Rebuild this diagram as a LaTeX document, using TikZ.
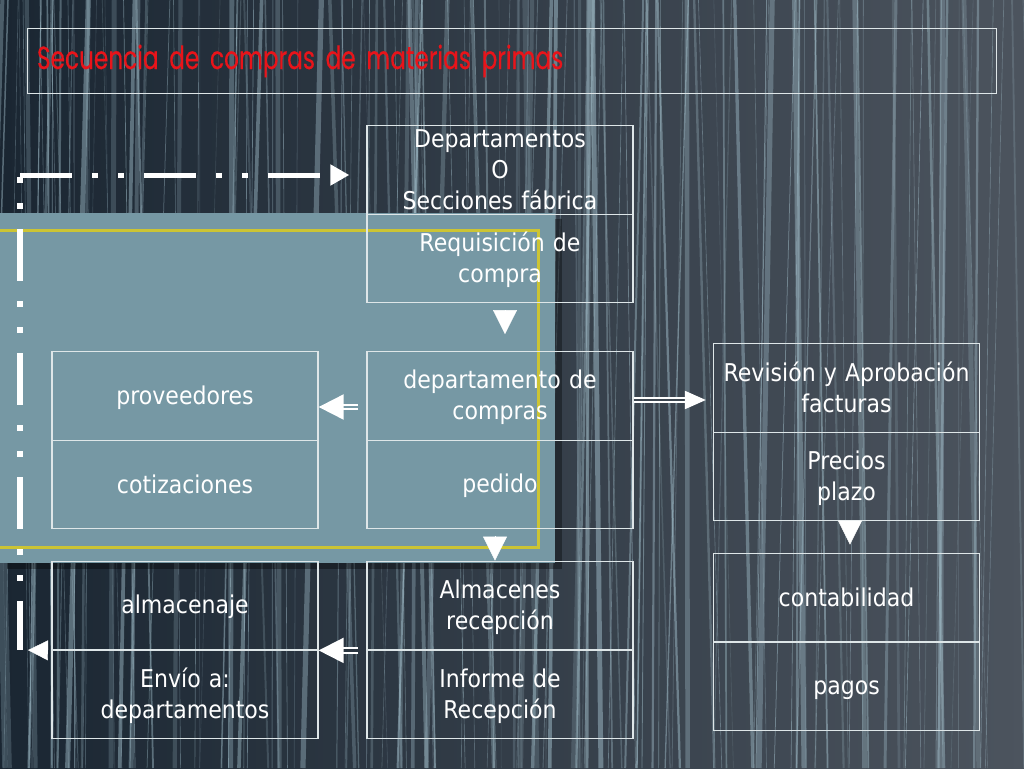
\documentclass[tikz,border=0pt]{standalone}
\usepackage{fontspec}
\setmainfont{DejaVu Sans}[FakeStretch=0.9]
\newfontfamily\titlefont[FakeStretch=0.725,FakeBold=0.3]{Poppins}
\usetikzlibrary{arrows.meta,positioning,calc}
\definecolor{bgleft}{RGB}{26,38,50}
\definecolor{bgright}{RGB}{76,84,94}
\definecolor{streak}{RGB}{170,200,212}
\definecolor{panelblue}{RGB}{118,152,164}
\definecolor{olive}{RGB}{204,196,52}
\definecolor{titlered}{RGB}{232,20,26}
\definecolor{cellline}{RGB}{222,230,232}
\definecolor{gapdark}{RGB}{42,53,64}
\definecolor{gapmid}{RGB}{60,70,80}

\begin{document}
\begin{tikzpicture}[x=1pt, y=-1pt, cell/.style={draw=cellline, line width=1.3pt, minimum width=266pt, minimum height=88.5pt, inner xsep=0pt, inner ysep=-1pt, text width=256pt, align=center, text=white, font=\fontsize{24.5}{31}\selectfont, execute at begin node={\rule{0pt}{22pt}}, execute at end node={\rule[-4.5pt]{0pt}{4.5pt}}}, tri/.style={white, line width=0.4pt, -{Triangle[width=24pt,length=24pt]}}, dbl/.style={draw=white, line width=2pt, double distance=2.5pt, -{Triangle[width=25pt,length=25pt]}}, dashdot/.style={white, line width=5.5pt, dash pattern=on 52pt off 20pt on 6pt off 20pt on 6pt off 20pt}]
\useasboundingbox (0,0) rectangle (1024,768);
\shade[left color=bgleft, right color=bgright] (0,0) rectangle (1024,768);
\pgfmathsetseed{42}
\foreach \i in {1,...,170}{
  \pgfmathsetmacro\xa{rnd*1060-18}
  \pgfmathsetmacro\dx{(rnd-0.5)*50}
  \pgfmathsetmacro\lw{0.6+5*rnd^3}
  \pgfmathsetmacro\op{0.15+0.35*rnd}
  \draw[streak, line width=\lw pt, opacity=\op] (\xa,0) -- (\xa+\dx,768);
}
\node[draw=cellline, line width=1pt, minimum width=969pt, minimum height=64pt, text width=949pt, inner xsep=10pt, align=left, text=titlered, font=\titlefont\fontsize{32}{36}\selectfont] (title) at (511.5,61) {\raisebox{4pt}{Secuencia de compras de materias primas}};
\fill[black, opacity=.35] (7,219) rectangle (562,569);
\fill[panelblue] (0,213) rectangle (555,563);
\draw[olive, line width=3pt] (-6,230) rectangle (538,547);
\begin{scope}[every node/.style={cell}]
\node (dept) at (500,170) {Departamentos\\O\\Secciones fábrica};
\node (req) at (500,258.5) {Requisición de\\compra};
\node (dep) at (500,396) {departamento de\\compras};
\node (ped) at (500,484.5) {pedido};
\node (alm) at (500,605.5) {Almacenes\\recepción};
\node (inf) at (500,694.5) {Informe de\\Recepción};
\node (prov) at (185,396) {proveedores};
\node (cot) at (185,484.5) {cotizaciones};
\node (almj) at (185,605.5) {almacenaje};
\node (env) at (185,694.5) {Envío a:\\departamentos};
\node (rev) at (846.5,388) {Revisión y Aprobación\\facturas};
\node (pre) at (846.5,476.5) {Precios\\plazo};
\node (con) at (846.5,597.5) {contabilidad};
\node (pag) at (846.5,686.5) {pagos};
\end{scope}
\coordinate (cTL) at (20,175);
\coordinate (cBL) at (20,650);
\coordinate (dl) at ($(dep.west)+(0,11)$);
\coordinate (dr) at ($(dep.east)+(0,4)$);
\draw[dashdot, dash pattern=on 6pt off 20pt on 6pt off 20pt on 52pt off 20pt, shorten <=2pt] (cTL) -- (cBL);
\draw[dashdot, line width=5pt, -{Triangle[width=20pt,length=19pt]}, shorten >=17pt] (cTL) -- (dept.west |- cTL);
\draw[tri, -{Triangle[width=20pt,length=20pt]}, shorten <=4pt, shorten >=8pt] (almj.south west) -- (cBL);
\draw[tri, shorten <=7pt, shorten >=17pt] ([xshift=5pt]req.south) -- ([xshift=5pt]dep.north);
\draw[tri, shorten <=7pt] ([xshift=-5pt]ped.south) -- ([xshift=-5pt]alm.north);
\draw[tri, shorten >=8pt] ([xshift=3.5pt]pre.south) -- ([xshift=3.5pt]con.north);
\draw[dbl, double=panelblue, shorten <=8pt] (dl) -- (dl -| prov.east);
\draw[dbl, double=gapmid, -{Triangle[width=18pt,length=21pt]}, shorten >=7pt] (dr) -- (dr -| rev.west);
\draw[dbl, double=gapdark, shorten <=8pt] (alm.south west) -- (almj.south east);
\end{tikzpicture}
\end{document}
